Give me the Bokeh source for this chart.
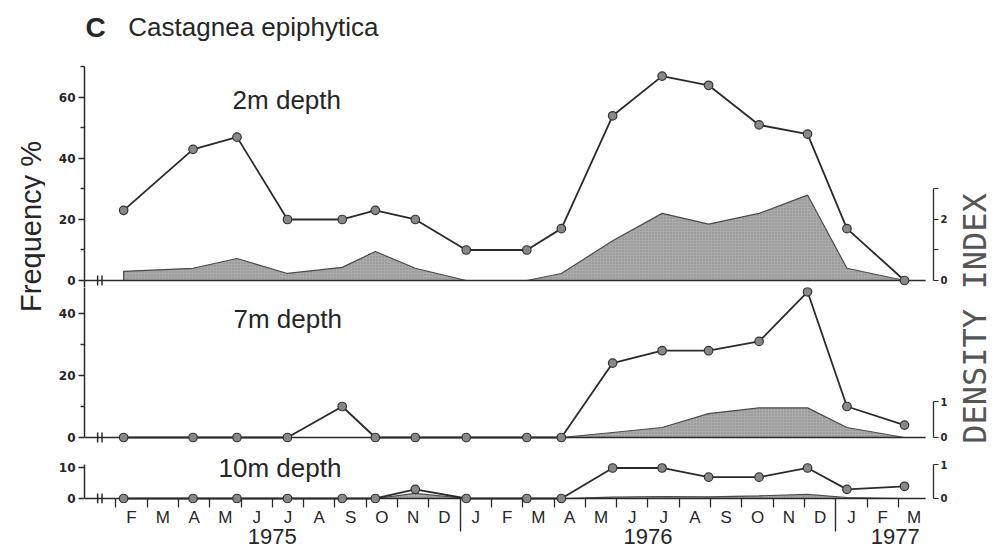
import calendar
import math

from bokeh.plotting import figure
from bokeh.layouts import row, column
from bokeh.models import Range1d, LinearAxis, FixedTicker, Label
from bokeh.embed import file_html
from bokeh.resources import INLINE

# ---------------------------------------------------------------- data
sample_dates = ["1975-02-08", "1975-04-15", "1975-05-28", "1975-07-16",
                "1975-09-08", "1975-10-10", "1975-11-18", "1976-01-07",
                "1976-03-05", "1976-04-08", "1976-05-28", "1976-07-15",
                "1976-08-30", "1976-10-18", "1976-12-04", "1977-01-12",
                "1977-03-07"]

freq_2m = [23, 43, 47, 20, 20, 23, 20, 10, 10, 17, 54, 67, 64, 51, 48, 17, 0]
density_2m = [0.3, 0.4, 0.72, 0.23, 0.43, 0.95, 0.4, 0, 0, 0.23, 1.3, 2.2,
              1.85, 2.2, 2.8, 0.4, 0]

freq_7m = [0, 0, 0, 0, 10, 0, 0, 0, 0, 0, 24, 28, 28, 31, 47, 10, 4]
density_7m = [0, 0, 0, 0, 0, 0, 0, 0, 0, 0, 0.14, 0.28, 0.67, 0.83, 0.83,
              0.28, 0]

freq_10m = [0, 0, 0, 0, 0, 0, 3, 0, 0, 0, 10, 10, 7, 7, 10, 3, 4]
density_10m = [0, 0, 0, 0, 0, 0, 0.15, 0, 0, 0, 0.04, 0.06, 0.05, 0.08,
               0.12, 0.03, 0]

month_letters = ["F", "M", "A", "M", "J", "J", "A", "S", "O", "N", "D",
                 "J", "F", "M", "A", "M", "J", "J", "A", "S", "O", "N", "D",
                 "J", "F", "M"]
years = ["1975", "1976", "1977"]


def month_pos(iso):
    """Months elapsed since 1 Jan 1975 (fractional)."""
    y, m, d = map(int, iso.split("-"))
    return (y - 1975) * 12 + (m - 1) + (d - 1) / calendar.monthrange(y, m)[1]


x = [month_pos(s) for s in sample_dates]

# ---------------------------------------------------------------- layout constants
X_END = 27.12          # right edge of the plotting frame (months)
BASE_END = 26.87       # end of the zero line
FRAME_W = 849
INK = "#2a2a2a"
TEXT = "#262626"
SANS = "Liberation Sans"

month_centres = [i + 0.5 for i in range(1, 27)]
month_bounds = [i for i in range(1, 27) if i not in (12, 24)]
year_bounds = [12, 24]
year_label_pos = [6.0, 18.0, 25.9]


def panel(freq, dens, f_lo, f_hi, k, left_bounds, left_ticks, left_minor,
          right_top, right_ticks, right_minor, frame_h, bottom=False):
    p = figure(frame_width=FRAME_W, frame_height=frame_h,
               x_range=Range1d(0, X_END), y_range=Range1d(f_lo, f_hi),
               x_axis_location="below" if bottom else None,
               y_axis_location=None,
               output_backend="svg", toolbar_location=None,
               min_border=0, min_border_left=39, min_border_right=14,
               min_border_bottom=50 if bottom else 0,
               outline_line_color=None,
               background_fill_color="white", border_fill_color="white")
    p.xgrid.grid_line_color = None
    p.ygrid.grid_line_color = None
    p.extra_y_ranges = {"dens": Range1d(f_lo / k, f_hi / k)}

    # frequency axis (left)
    la = LinearAxis(bounds=left_bounds,
                    ticker=FixedTicker(ticks=left_ticks, minor_ticks=left_minor))
    la.axis_line_color = INK
    la.axis_line_width = 1.5
    la.major_tick_line_color = INK
    la.minor_tick_line_color = INK
    la.major_tick_line_width = 1.3
    la.minor_tick_line_width = 1.3
    la.major_tick_in = 0
    la.major_tick_out = 6
    la.minor_tick_in = 0
    la.minor_tick_out = 4
    la.major_label_standoff = 3
    la.major_label_text_font = "DejaVu Sans"
    la.major_label_text_font_style = "bold"
    la.major_label_text_font_size = "12px"
    la.major_label_text_color = TEXT
    p.add_layout(la, "left")

    # density index axis (right)
    ra = LinearAxis(y_range_name="dens", bounds=(0, right_top),
                    ticker=FixedTicker(ticks=right_ticks, minor_ticks=right_minor))
    ra.axis_line_color = INK
    ra.axis_line_width = 1.3
    ra.major_tick_line_color = INK
    ra.minor_tick_line_color = INK
    ra.major_tick_in = 0
    ra.major_tick_out = 5
    ra.minor_tick_in = 0
    ra.minor_tick_out = 5
    ra.major_label_standoff = 2
    ra.major_label_text_font = "DejaVu Sans"
    ra.major_label_text_font_style = "bold"
    ra.major_label_text_font_size = "10px"
    ra.major_label_text_color = TEXT
    p.add_layout(ra, "right")

    # shaded density profile
    px = [x[0]] + x + [x[-1]]
    py = [0] + dens + [0]
    p.patch(px, py, y_range_name="dens", fill_color="#ababab",
            line_color="#4a4a4a", line_width=1.2,
            hatch_pattern="dot", hatch_color="#6e6e6e", hatch_scale=3,
            hatch_weight=0.8, hatch_alpha=0.6)

    # zero line with an axis break near the origin
    p.line([0, BASE_END], [0, 0], line_color=INK, line_width=1.5)
    h = 5 * (f_hi - f_lo) / frame_h
    p.segment(x0=[0.42, 0.56], y0=[-h, -h], x1=[0.42, 0.56], y1=[h, h],
              line_color=INK, line_width=1.5)

    # frequency series
    p.line(x, freq, line_color=INK, line_width=1.8)
    p.scatter(x, freq, size=8.5, fill_color="#888888", line_color="#333333",
              line_width=1.2)
    return p


def depth_label(p, text, xm, yv):
    p.add_layout(Label(x=xm, y=yv, text=text, text_font=SANS,
                       text_font_size="26px", text_color=TEXT,
                       text_align="left", text_baseline="alphabetic"))


# ---------------------------------------------------------------- 2 m
p2 = panel(freq_2m, density_2m, -2.3, 91.8, 10,
           (-2.3, 70), [0, 20, 40, 60], [10, 30, 50, 70],
           3, [0, 2], [1, 3], 287)
depth_label(p2, "2m depth", 4.73, 59.3)
p2.add_layout(Label(x=0.03, y=83.0, text="C", text_font=SANS,
                    text_font_style="bold", text_font_size="28px",
                    text_color=TEXT, text_baseline="alphabetic"))
p2.add_layout(Label(x=1.4, y=83.0, text="Castagnea epiphytica", text_font=SANS,
                    text_font_size="26px", text_color=TEXT,
                    text_baseline="alphabetic"))

# ---------------------------------------------------------------- 7 m
p7 = panel(freq_7m, density_7m, -2.26, 48.39, 11.5,
           (0, 48.39), [0, 20, 40], [10, 30],
           1, [0, 1], [], 157)
depth_label(p7, "7m depth", 4.76, 38.1)

# ---------------------------------------------------------------- 10 m
p10 = panel(freq_10m, density_10m, -1.64, 17.7, 11,
            (0, 11), [0, 10], [],
            1, [0, 1], [], 59, bottom=True)
depth_label(p10, "10m depth", 4.28, 10.1)

# month letters on the first time axis
ax1 = p10.below[0]
ax1.ticker = FixedTicker(ticks=month_centres, minor_ticks=month_bounds)
ax1.major_label_overrides = {c: m for c, m in zip(month_centres, month_letters)}
ax1.axis_line_color = None
ax1.major_tick_in = 0
ax1.major_tick_out = 0
ax1.minor_tick_in = 5
ax1.minor_tick_out = 4
ax1.minor_tick_line_color = INK
ax1.minor_tick_line_width = 1.3
ax1.major_label_standoff = 0
ax1.major_label_text_font = SANS
ax1.major_label_text_font_size = "17px"
ax1.major_label_text_color = TEXT

# years, with long year-boundary ticks
ax2 = LinearAxis(ticker=FixedTicker(ticks=year_label_pos, minor_ticks=year_bounds))
ax2.major_label_overrides = {c: y for c, y in zip(year_label_pos, years)}
ax2.axis_line_color = None
ax2.major_tick_in = 0
ax2.major_tick_out = 0
ax2.minor_tick_in = 31
ax2.minor_tick_out = 2
ax2.minor_tick_line_color = INK
ax2.minor_tick_line_width = 1.4
ax2.major_label_standoff = -3
ax2.major_label_text_font = SANS
ax2.major_label_text_font_size = "22px"
ax2.major_label_text_color = TEXT
p10.add_layout(ax2, "below")

# ---------------------------------------------------------------- side titles
left = figure(width=45, height=553, x_range=Range1d(0, 45),
              y_range=Range1d(0, 553), x_axis_location=None,
              y_axis_location=None, output_backend="svg",
              toolbar_location=None, min_border=0, outline_line_color=None)
left.grid.grid_line_color = None
left.add_layout(Label(x=30, y=553 - 226, text="Frequency %", angle=math.pi / 2,
                      text_font=SANS, text_font_size="29px", text_color=TEXT,
                      text_align="center", text_baseline="middle"))

right = figure(width=45, height=553, x_range=Range1d(0, 45),
               y_range=Range1d(0, 553), x_axis_location=None,
               y_axis_location=None, output_backend="svg",
               toolbar_location=None, min_border=0, outline_line_color=None)
right.grid.grid_line_color = None
right.add_layout(Label(x=24, y=553 - 318, text="DENSITY INDEX",
                       angle=math.pi / 2, text_font="DejaVu Sans Mono",
                       text_font_size="32px", text_color="#555555",
                       text_align="center", text_baseline="middle"))

layout = row(left, column(p2, p7, p10), right)

open("out.html", "w").write(file_html(layout, INLINE))
